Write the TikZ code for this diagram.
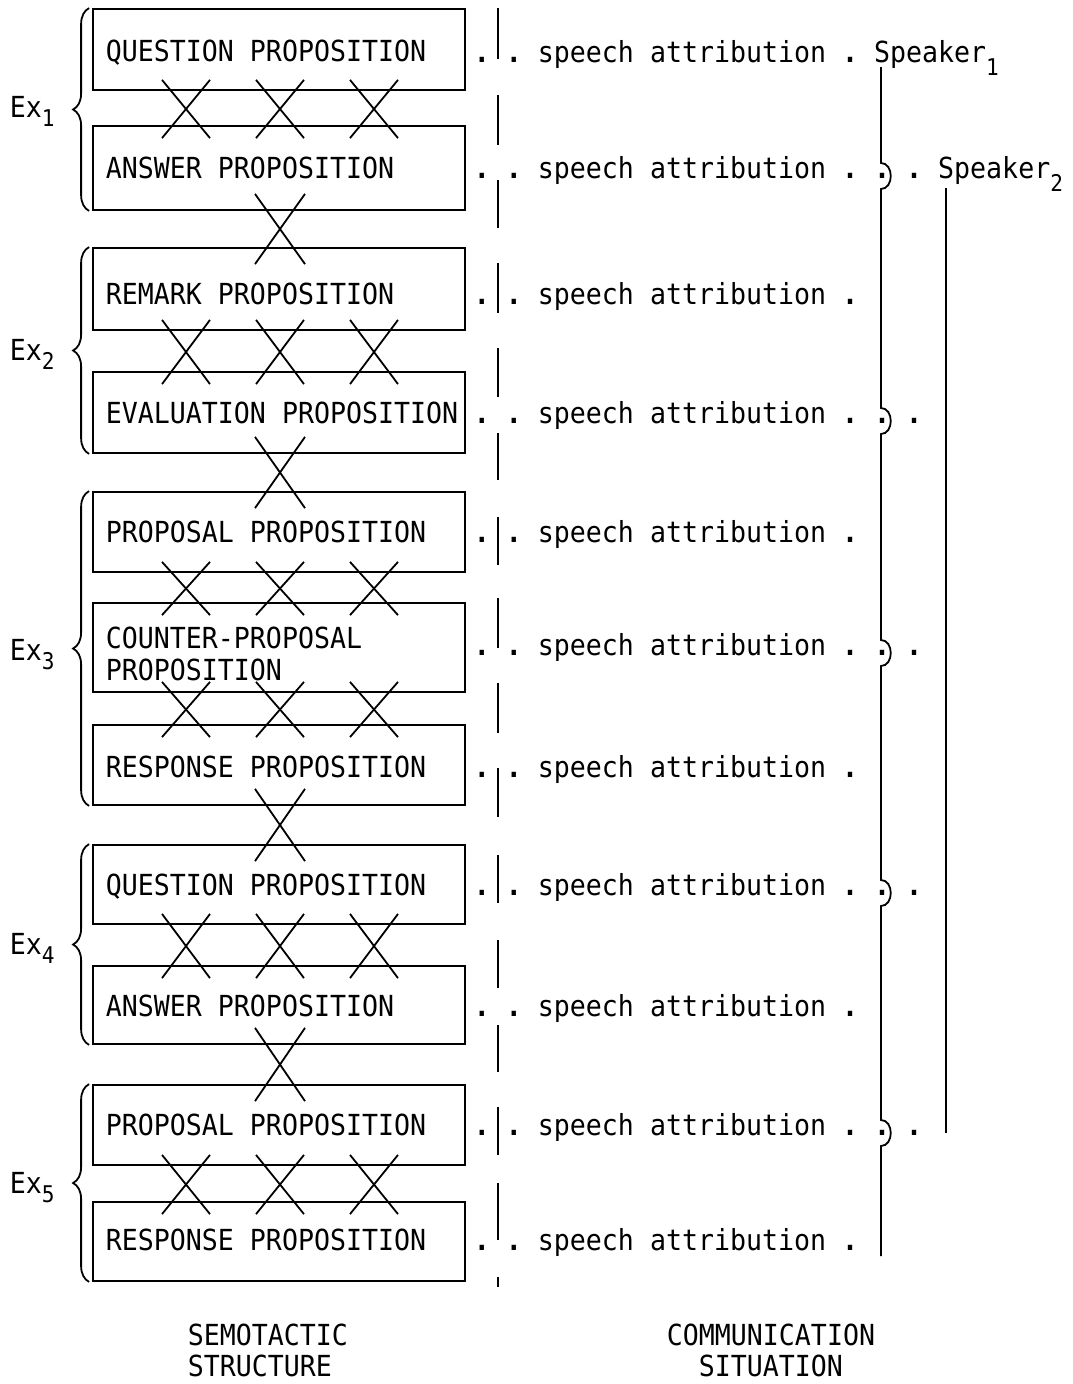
\documentclass[tikz,border=0pt]{standalone}
\usepackage{fontspec}
\setmonofont[FakeStretch=0.917]{DejaVu Sans Mono}
\usetikzlibrary{calc,decorations.pathreplacing}
\newcommand\typefont{\ttfamily\fontsize{29}{32}\selectfont\frenchspacing}
\newcommand\lowsub[2]{\raisebox{-#1pt}{\fontsize{23}{23}\selectfont #2}}
% typed full stop, struck a little heavier
\newcommand\fullstop{{\bfseries .}}

\begin{document}
\begin{tikzpicture}[x=1pt,y=-1pt,line width=1.8pt,
  every node/.style={font=\typefont, inner sep=0pt},
  propbox/.style={draw, rectangle, minimum width=372pt},
  typed/.style={anchor=base west},
  exbrace/.style={decorate, decoration={brace, amplitude=16pt}}]
\useasboundingbox (0,0) rectangle (1072,1384);

% proposition boxes of the semotactic structure
\foreach \n/\t/\b in {b1/9/90, b2/126/210, b3/248/330, b4/372/453, b5/492/572,
    b6/603/692, b7/725/805, b8/845/924, b9/966/1044, b10/1085/1165, b11/1202/1281}
  \node[propbox, minimum height={\b-\t}] (\n) at (279,{(\t+\b)/2}) {};

\node[typed] (p1)  at (105,61)   {QUESTION PROPOSITION};
\node[typed] (p2)  at (105,178)  {ANSWER PROPOSITION};
\node[typed] (p3)  at (105,304)  {REMARK PROPOSITION};
\node[typed] (p4)  at (105,423)  {EVALUATION PROPOSITION};
\node[typed] (p5)  at (105,542)  {PROPOSAL PROPOSITION};
\node[typed] (p6a) at (105,648)  {COUNTER-PROPOSAL};
\node[typed] (p6b) at (105,680)  {PROPOSITION};
\node[typed] (p7)  at (105,777)  {RESPONSE PROPOSITION};
\node[typed] (p8)  at (105,895)  {QUESTION PROPOSITION};
\node[typed] (p9)  at (105,1016) {ANSWER PROPOSITION};
\node[typed] (p10) at (105,1135) {PROPOSAL PROPOSITION};
\node[typed] (p11) at (105,1250) {RESPONSE PROPOSITION};

% triple crossings inside each exchange
\foreach \u/\l in {b1/b2, b3/b4, b5/b6, b6/b7, b8/b9, b10/b11}
  \foreach \dx in {-93,1,95} {
    \draw ($(\u.south)+(\dx-24,-11)$) -- ($(\l.north)+(\dx+24,13)$);
    \draw ($(\u.south)+(\dx+24,-11)$) -- ($(\l.north)+(\dx-24,13)$);
  }

% single crossings between exchanges
\foreach \u/\l in {b2/b3, b4/b5, b7/b8, b9/b10} {
  \draw ($(\u.south)+(-24,-17)$) -- ($(\l.north)+(26,17)$);
  \draw ($(\u.south)+(26,-17)$) -- ($(\l.north)+(-24,17)$);
}

% exchange braces and labels
\foreach \u/\l in {b1/b2, b3/b4, b5/b7, b8/b9, b10/b11}
  \draw[exbrace] ($(\l.south west)+(-3,0)$) -- ($(\u.north west)+(-3,0)$);
\node[typed] (ex1) at (9,117)  {Ex\lowsub{9}{1}};
\node[typed] (ex2) at (9,360)  {Ex\lowsub{9}{2}};
\node[typed] (ex3) at (9,660)  {Ex\lowsub{9}{3}};
\node[typed] (ex4) at (9,954)  {Ex\lowsub{9}{4}};
\node[typed] (ex5) at (9,1193) {Ex\lowsub{9}{5}};

% broken divider between the two halves
\foreach \a/\b in {8/59, 95/145, 180/228, 263/313, 348/397, 433/480, 517/565,
    598/648, 683/733, 768/817, 855/903, 940/988, 1025/1072, 1107/1155,
    1183/1240, 1277/1287}
  \draw (498,\a) -- (498,\b);

% communication situation lines
\node[typed] (r1)  at (473,62)   {\fullstop{} \fullstop{} speech attribution \fullstop{} Speaker\lowsub{13}{1}};
\node[typed] (r2)  at (473,178)  {\fullstop{} \fullstop{} speech attribution \fullstop{} \fullstop{} \fullstop{} Speaker\lowsub{13}{2}};
\node[typed] (r3)  at (473,304)  {\fullstop{} \fullstop{} speech attribution \fullstop};
\node[typed] (r4)  at (473,423)  {\fullstop{} \fullstop{} speech attribution \fullstop{} \fullstop{} \fullstop};
\node[typed] (r5)  at (473,542)  {\fullstop{} \fullstop{} speech attribution \fullstop};
\node[typed] (r6)  at (473,655)  {\fullstop{} \fullstop{} speech attribution \fullstop{} \fullstop{} \fullstop};
\node[typed] (r7)  at (473,777)  {\fullstop{} \fullstop{} speech attribution \fullstop};
\node[typed] (r8)  at (473,895)  {\fullstop{} \fullstop{} speech attribution \fullstop{} \fullstop{} \fullstop};
\node[typed] (r9)  at (473,1016) {\fullstop{} \fullstop{} speech attribution \fullstop};
\node[typed] (r10) at (473,1135) {\fullstop{} \fullstop{} speech attribution \fullstop{} \fullstop{} \fullstop};
\node[typed] (r11) at (473,1250) {\fullstop{} \fullstop{} speech attribution \fullstop};

% speaker lines, the first one hopping round its own dots
\coordinate (s1top) at (881,67);
\coordinate (s1end) at (881,1256);
\coordinate (s2top) at (946,188);
\coordinate (s2end) at (946,1133);
\draw (s1top) foreach \y in {176,421,653,893,1133} {
    -- (881,\y-13) .. controls (894,\y-13) and (894,\y+13) .. (881,\y+13) }
  -- (s1end);
\draw (s2top) -- (s2end);

% column captions
\node[typed] (c1a) at (187,1345) {SEMOTACTIC};
\node[typed] (c1b) at (187,1376) {STRUCTURE};
\node[typed] (c2a) at (666,1345) {COMMUNICATION};
\node[typed] (c2b) at (698,1376) {SITUATION};
\end{tikzpicture}
\end{document}
